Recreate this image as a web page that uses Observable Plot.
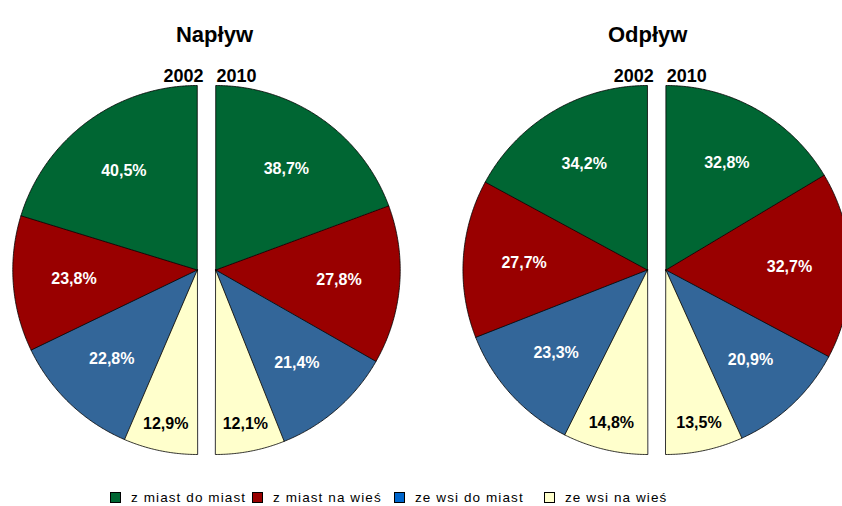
<!DOCTYPE html>
<html>
<head>
<meta charset="utf-8">
<script src="https://cdn.jsdelivr.net/npm/d3@7"></script>
<script src="https://cdn.jsdelivr.net/npm/@observablehq/plot@0.6"></script>
<style>
  html, body { margin: 0; padding: 0; background: #fff; }
  body { font-family: "Liberation Sans", Arial, sans-serif; width: 842px; }
  #legend { position: relative; height: 24px; }
  .item { position: absolute; top: 6px; display: flex; align-items: center; height: 18px;
          font-size: 13.5px; letter-spacing: 1.1px; color: #000; white-space: nowrap; }
  .sw { width: 11px; height: 11px; border: 1px solid #000; box-sizing: border-box; margin-right: 10px; flex: none; }
</style>
</head>
<body>
<div id="chart"></div>
<div id="legend"></div>
<script>
// ---- data ----
const panels = ["Napływ", "Odpływ"];
const years = ["2002", "2010"];
const categories = ["z miast do miast", "z miast na wieś", "ze wsi do miast", "ze wsi na wieś"];
const naplyw2002 = [40.5, 23.8, 22.8, 12.9];
const naplyw2010 = [38.7, 27.8, 21.4, 12.1];
const odplyw2002 = [34.2, 27.7, 23.3, 14.8];
const odplyw2010 = [32.8, 32.7, 20.9, 13.5];
const sliceColors = ["#006633", "#990000", "#336699", "#FFFFCC"];
const legendColors = ["#006633", "#990000", "#0066CC", "#FFFFCC"];
const labelColors = ["#ffffff", "#ffffff", "#ffffff", "#000000"];

// ---- layout (in pie-radius units) ----
const W = 842, H = 482, RPX = 184.5;
const centers = [0, 2.44];          // gap centre of each split pie
const halfGap = 0.05;               // each half pushed away from the gap
const cxPx = 206, cyPx = 269.5;     // position of the first pie centre in the frame
const xDomain = [-cxPx / RPX, (W - cxPx) / RPX];
const yDomain = [-(H - cyPx) / RPX, cyPx / RPX];

const series = [[naplyw2002, naplyw2010], [odplyw2002, odplyw2010]];

const points = [];
const labels = [];
series.forEach((pair, p) => {
  pair.forEach((vals, h) => {
    const sign = h === 0 ? -1 : 1;
    const ox = centers[p] + sign * halfGap;
    const total = d3.sum(vals);
    let cum = 0;
    vals.forEach((v, c) => {
      const a0 = cum / total * Math.PI;
      const a1 = (cum + v) / total * Math.PI;
      cum += v;
      const id = `${p}-${h}-${c}`;
      points.push({id, cat: categories[c], x: ox, y: 0});
      const n = Math.max(2, Math.ceil((a1 - a0) / (Math.PI / 360)));
      for (let k = 0; k <= n; k++) {
        const t = a0 + (a1 - a0) * k / n;
        points.push({id, cat: categories[c], x: ox + sign * Math.sin(t), y: Math.cos(t)});
      }
      const f = v / total;
      const d = f < 0.16 ? 0.85 : 0.67;
      const am = (a0 + a1) / 2;
      labels.push({
        x: ox + sign * d * Math.sin(am),
        y: d * Math.cos(am),
        text: v.toFixed(1).replace(".", ",") + "%",
        color: labelColors[c]
      });
    });
  });
});

const titleShift = [8 / RPX, -9 / RPX];
const font = "Liberation Sans, Arial, Helvetica, sans-serif";

const chart = Plot.plot({
  width: W,
  height: H,
  margin: 0,
  style: {fontFamily: font, background: "#fff", overflow: "visible"},
  x: {domain: xDomain, axis: null},
  y: {domain: yDomain, axis: null},
  color: {domain: categories, range: sliceColors},
  marks: [
    Plot.line(points, {x: "x", y: "y", z: "id", fill: "cat", stroke: "#000", strokeWidth: 0.8,
                       curve: "linear-closed", strokeLinejoin: "round"}),
    Plot.text(labels.filter(d => d.color === "#ffffff"),
      {x: "x", y: "y", text: "text", fill: "#ffffff", fontSize: 16, fontWeight: "bold"}),
    Plot.text(labels.filter(d => d.color === "#000000"),
      {x: "x", y: "y", text: "text", fill: "#000000", fontSize: 16, fontWeight: "bold"}),
    Plot.text(panels, {x: (d, i) => centers[i] + titleShift[i], frameAnchor: "top", dy: 26,
      text: d => d, fontSize: 22, fontWeight: "bold", fill: "#000"}),
    Plot.text(panels, {x: (d, i) => centers[i] - 3 / RPX, frameAnchor: "top", dy: 68.5,
      text: () => years[0], textAnchor: "end", fontSize: 18, fontWeight: "bold", fill: "#000"}),
    Plot.text(panels, {x: (d, i) => centers[i] + 10 / RPX, frameAnchor: "top", dy: 68.5,
      text: () => years[1], textAnchor: "start", fontSize: 18, fontWeight: "bold", fill: "#000"})
  ]
});
document.getElementById("chart").appendChild(chart);

// ---- legend ----
const legendLeft = [110, 252, 394, 544];
const legend = document.getElementById("legend");
categories.forEach((c, i) => {
  const item = document.createElement("div");
  item.className = "item";
  item.style.left = legendLeft[i] + "px";
  const sw = document.createElement("span");
  sw.className = "sw";
  sw.style.background = legendColors[i];
  const tx = document.createElement("span");
  tx.textContent = c;
  item.appendChild(sw);
  item.appendChild(tx);
  legend.appendChild(item);
});
</script>
</body>
</html>
